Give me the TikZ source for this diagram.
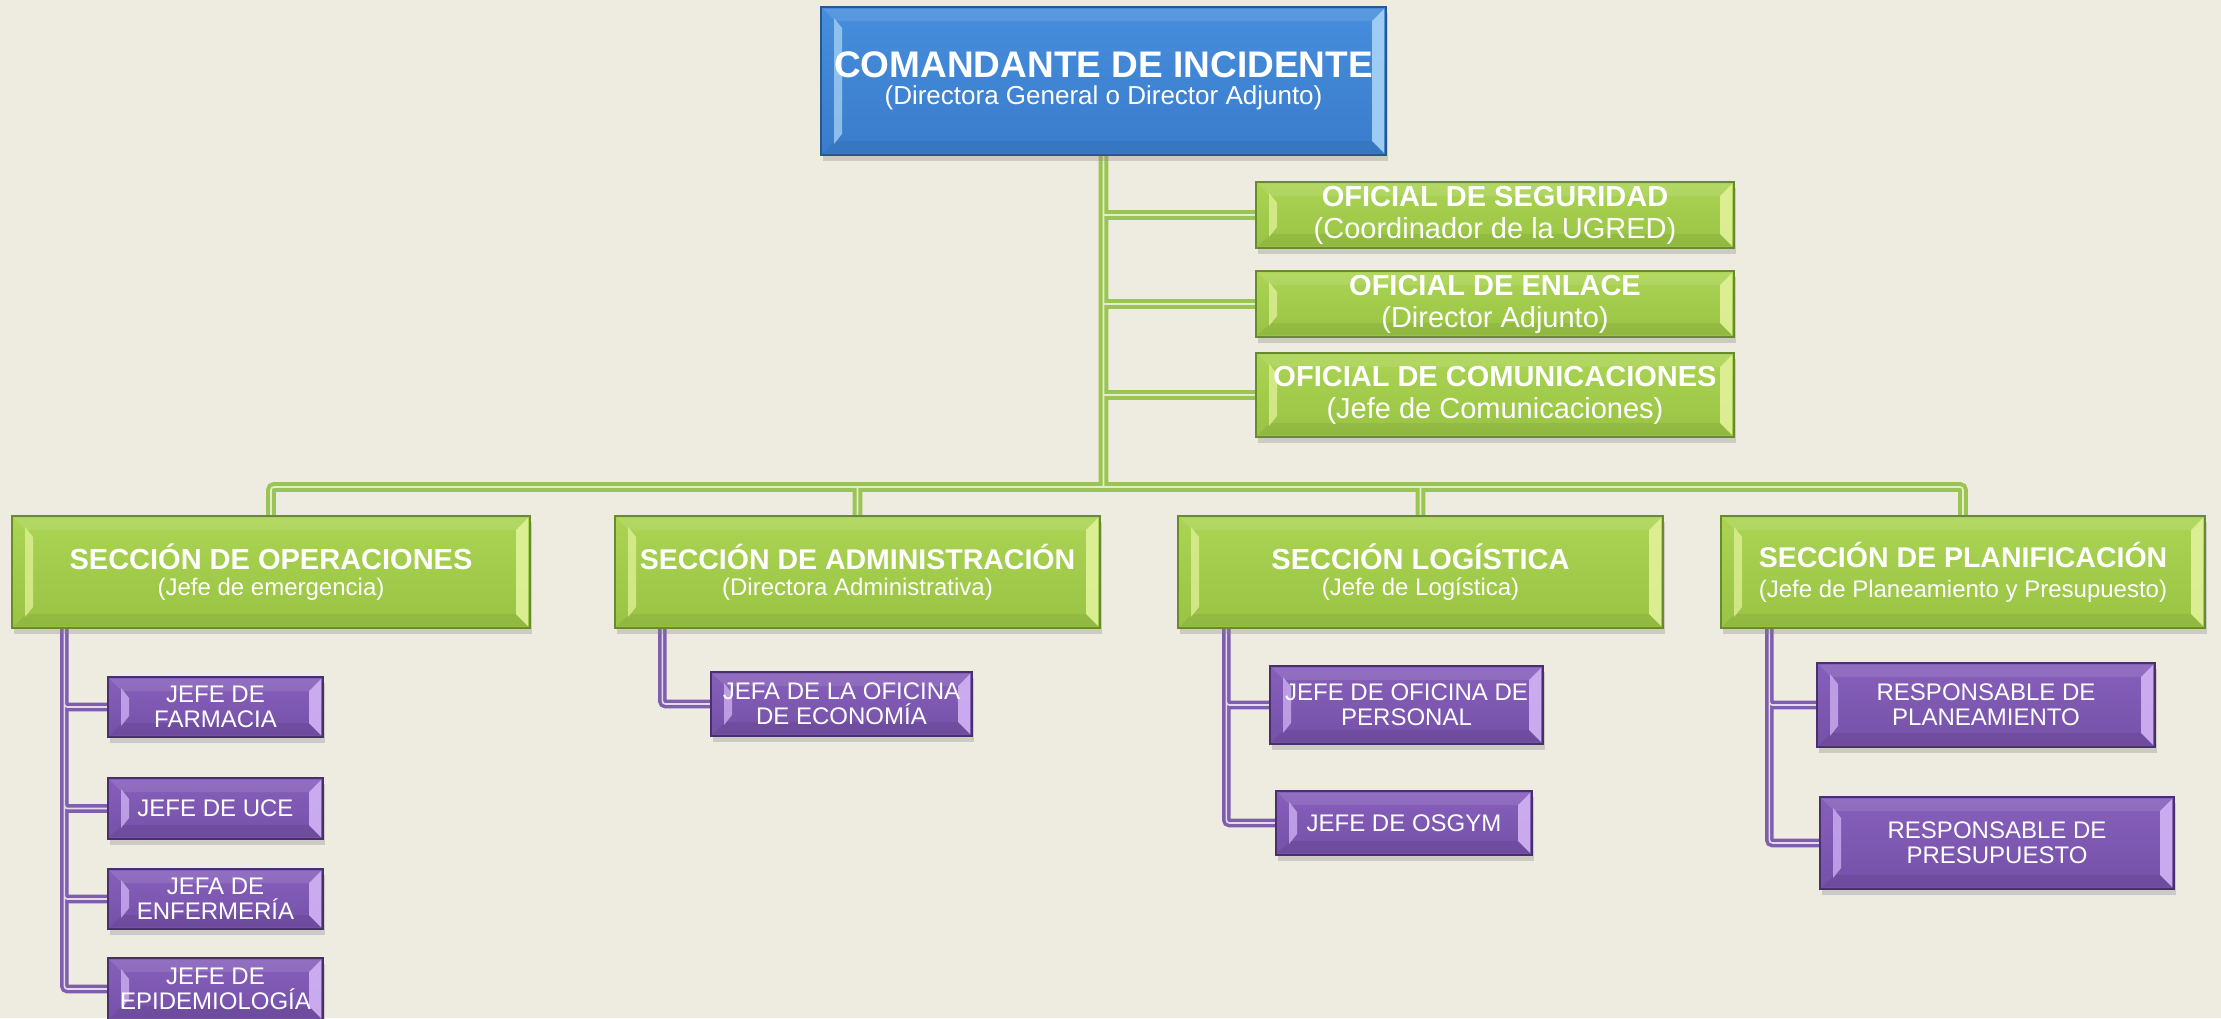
\documentclass[tikz,border=0pt]{standalone}
\usepackage{fontspec}
\setmainfont{Liberation Sans}
\usetikzlibrary{calc,shadows,backgrounds}
\definecolor{bg}{HTML}{EEECE1}
\definecolor{blueT}{HTML}{468EDD}
\definecolor{blueB}{HTML}{3A7CCB}
\definecolor{blueD}{HTML}{2A5790}
\definecolor{blueL}{HTML}{A9D4F5}
\definecolor{greenT}{HTML}{ABD453}
\definecolor{greenB}{HTML}{99C344}
\definecolor{greenD}{HTML}{6A8A30}
\definecolor{greenL}{HTML}{E2F29A}
\definecolor{purT}{HTML}{865FBA}
\definecolor{purB}{HTML}{7551A8}
\definecolor{purD}{HTML}{48306C}
\definecolor{purL}{HTML}{D2B4F5}
\definecolor{gline}{HTML}{9BC552}
\definecolor{glineL}{HTML}{E3EDCB}
\definecolor{pline}{HTML}{7F5EAD}
\definecolor{plineL}{HTML}{E2DAEC}
\tikzset{
  bev/.style n args={3}{path picture={
    \coordinate (q1) at (path picture bounding box.north west);
    \coordinate (q2) at (path picture bounding box.south east);
    \fill[#3,opacity=0.18] ($(q1|-q2)+(2pt,2pt)$) -- ($(q2)+(-2pt,2pt)$) -- ($(q2)+(-14pt,14pt)$) -- ($(q1|-q2)+(14pt,14pt)$) -- cycle;
    \fill[white,opacity=0.10] ($(q1)+(2pt,-2pt)$) -- ($(q2|-q1)+(-2pt,-2pt)$) -- ($(q2|-q1)+(-14pt,-14pt)$) -- ($(q1)+(14pt,-14pt)$) -- cycle;
    \fill[#1,opacity=0.75] ($(q1)+(13pt,-11pt)$) -- ($(q1)+(21pt,-21pt)$) -- ($(q1|-q2)+(21pt,21pt)$) -- ($(q1|-q2)+(13pt,11pt)$) -- cycle;
    \fill[#2,opacity=0.9] ($(q2|-q1)+(-2pt,-2pt)$) -- ($(q2|-q1)+(-14pt,-14pt)$) -- ($(q2)+(-14pt,14pt)$) -- ($(q2)+(-2pt,2pt)$) -- cycle;
  }},
  box/.style={rectangle, inner sep=0pt, text=white, align=center, line width=1.2pt,
    drop shadow={shadow xshift=2pt, shadow yshift=-6pt, opacity=0.3}},
  bluebox/.style={box, draw=blueD, top color=blueT, bottom color=blueB, bev={blueL}{blueL}{blueD}},
  greenbox/.style={box, draw=greenD, top color=greenT, bottom color=greenB, bev={greenL}{greenL}{greenD}},
  offbox/.style={greenbox, minimum width=478pt, font=\fontsize{29}{32}\selectfont},
  secbox/.style={greenbox, minimum height=112pt, font=\fontsize{24}{26}\selectfont},
  purbox/.style={box, draw=purD, top color=purT, bottom color=purB, bev={purL}{purL}{purD},
    font=\fontsize{24}{25}\selectfont},
  gconn/.style={draw=gline, line width=4pt, double=glineL, double distance=1.6pt, rounded corners=3pt},
  pconn/.style={draw=pline, line width=3.5pt, double=plineL, double distance=1.6pt, rounded corners=3pt},
}
\begin{document}
\begin{tikzpicture}[x=1pt,y=-1pt]
\useasboundingbox (0,0) rectangle (2221,1018);
% top
\node[bluebox, minimum width=565pt, minimum height=148pt, font=\fontsize{26}{27}\selectfont] (cmd) at (1103.5,81)
  {\fontsize{37}{27}\selectfont\bfseries COMANDANTE DE INCIDENTE\\(Directora General o Director Adjunto)};
% officers
\node[offbox, minimum height=66pt] (seg) at (1495,215)
  {\bfseries OFICIAL DE SEGURIDAD\\(Coordinador de la UGRED)};
\node[offbox, minimum height=66pt] (enl) at (1495,304)
  {\bfseries OFICIAL DE ENLACE\\(Director Adjunto)};
\node[offbox, minimum height=84pt] (com) at (1495,395)
  {\bfseries OFICIAL DE COMUNICACIONES\\(Jefe de Comunicaciones)};
% sections
\node[secbox, minimum width=518pt] (ops) at (271,572)
  {\fontsize{29}{26}\selectfont\bfseries SECCIÓN DE OPERACIONES\\(Jefe de emergencia)};
\node[secbox, minimum width=485pt] (adm) at (857.5,572)
  {\fontsize{28.5}{26}\selectfont\bfseries SECCIÓN DE ADMINISTRACIÓN\\(Directora Administrativa)};
\node[secbox, minimum width=485pt] (log) at (1420.5,572)
  {\fontsize{29}{26}\selectfont\bfseries SECCIÓN LOGÍSTICA\\(Jefe de Logística)};
\node[secbox, minimum width=484pt, font=\fontsize{24}{30}\selectfont] (pla) at (1963,572)
  {\fontsize{28.5}{30}\selectfont\bfseries SECCIÓN DE PLANIFICACIÓN\\(Jefe de Planeamiento y Presupuesto)};
% operations children
\node[purbox, minimum width=215pt, minimum height=60pt] (far) at (215.5,707) {JEFE DE\\FARMACIA};
\node[purbox, minimum width=215pt, minimum height=61pt] (uce) at (215.5,808.5) {JEFE DE UCE};
\node[purbox, minimum width=215pt, minimum height=60pt] (enf) at (215.5,899) {JEFA DE\\ENFERMERÍA};
\node[purbox, minimum width=215pt, minimum height=62pt] (epi) at (215.5,989) {JEFE DE\\EPIDEMIOLOGÍA};
% admin child
\node[purbox, minimum width=261pt, minimum height=64pt] (eco) at (841.5,704) {JEFA DE LA OFICINA\\DE ECONOMÍA};
% logistics children
\node[purbox, minimum width=273pt, minimum height=78pt] (per) at (1406.5,705) {JEFE DE OFICINA DE\\PERSONAL};
\node[purbox, minimum width=256pt, minimum height=64pt] (osg) at (1404,823) {JEFE DE OSGYM};
% planning children
\node[purbox, minimum width=338pt, minimum height=84pt] (plm) at (1986,705) {RESPONSABLE DE\\PLANEAMIENTO};
\node[purbox, minimum width=354pt, minimum height=92pt] (pre) at (1997,843) {RESPONSABLE DE\\PRESUPUESTO};
% connectors
\coordinate (bus) at (1103.5,487);
\coordinate (opsv) at ($(ops.south west)+(53pt,0)$);
\coordinate (admv) at ($(adm.south west)+(48pt,0)$);
\coordinate (logv) at ($(log.south west)+(49pt,0)$);
\coordinate (plav) at ($(pla.south west)+(49pt,0)$);
\begin{scope}[on background layer]
\fill[bg] (0,0) rectangle (2221,1018);
\path[gconn] (cmd.south) -- (bus)
  (seg.west -| cmd.south) -- (seg.west)
  (enl.west -| cmd.south) -- (enl.west)
  (com.west -| cmd.south) -- (com.west)
  (ops.north) |- (bus) (pla.north) |- (bus)
  (adm.north) -- (adm.north |- bus)
  (log.north) -- (log.north |- bus);
\path[pconn] (opsv) |- (far.west) (opsv) |- (uce.west) (opsv) |- (enf.west) (opsv) |- (epi.west);
\path[pconn] (admv) |- (eco.west);
\path[pconn] (logv) |- (per.west) (logv) |- (osg.west);
\path[pconn] (plav) |- (plm.west) (plav) |- (pre.west);
\end{scope}
\end{tikzpicture}
\end{document}
